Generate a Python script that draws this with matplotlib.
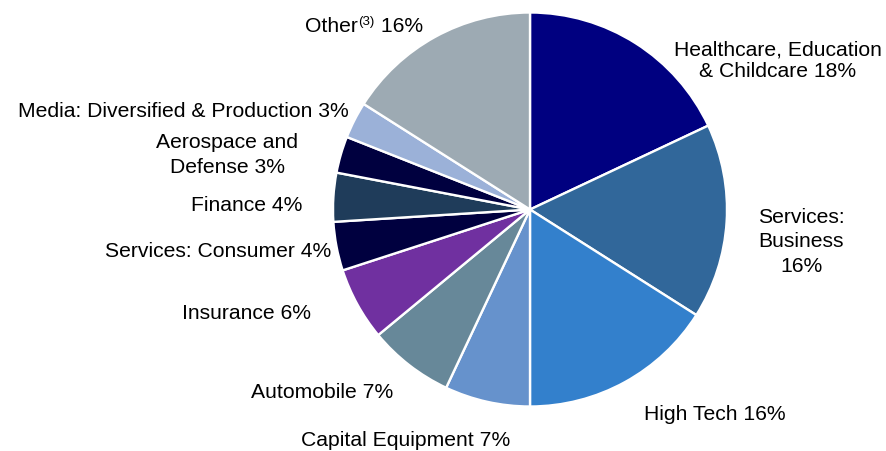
import matplotlib
matplotlib.use("Agg")
import matplotlib.pyplot as plt

categories = ["Healthcare, Education & Childcare", "Services: Business", "High Tech",
              "Capital Equipment", "Automobile", "Insurance", "Services: Consumer",
              "Finance", "Aerospace and Defense", "Media: Diversified & Production", "Other"]
values = [18, 16, 16, 7, 7, 6, 4, 4, 3, 3, 16]
label_lines = [
    ["Healthcare, Education", "& Childcare 18%"],
    ["Services:", "Business", "16%"],
    ["High Tech 16%"],
    ["Capital Equipment 7%"],
    ["Automobile 7%"],
    ["Insurance 6%"],
    ["Services: Consumer 4%"],
    ["Finance 4%"],
    ["Aerospace and", "Defense 3%"],
    ["Media: Diversified & Production 3%"],
    None,  # Other handled with superscript
]

colors = ["#000080", "#31679A", "#3380CC", "#6692CC", "#678899", "#7030A0",
          "#00003F", "#1F3C5A", "#00003F", "#9BB1D8", "#9DAAB3"]

plt.rcParams['font.family'] = ['Liberation Sans', 'DejaVu Sans']
W, H = 886, 451
fig = plt.figure(figsize=(W / 100, H / 100), dpi=100)

cx, cy, r = 530, 209.5, 197
ax = fig.add_axes([(cx - r) / W, (H - (cy + r)) / H, 2 * r / W, 2 * r / H])
ax.pie(values, colors=colors, startangle=90, counterclock=False, radius=1,
       wedgeprops=dict(edgecolor="white", linewidth=1.7))
ax.set_xlim(-1, 1)
ax.set_ylim(-1, 1)
ax.set_aspect("auto")
ax.axis("off")

def px(x, y):
    return x / W, (H - y) / H

fs = 15.25
# label layout (pixel positions: center x, baselines)
label_pos = [
    (777.5, [55, 77]),
    (801, [223, 247, 272]),
    (715, [420]),
    (406, [446]),
    (322.5, [398]),
    (246.5, [319]),
    (218, [257]),
    (247, [211]),
    (227, [148, 173]),
    (183.5, [117]),
]
for lines, (x, ys) in zip(label_lines, label_pos):
    for line, y in zip(lines, ys):
        fig.text(*px(x, y), line, ha="center", va="baseline", fontsize=fs, color="black")

# Other with superscript
renderer = fig.canvas.get_renderer()
t1 = fig.text(*px(305, 32), "Other", ha="left", va="baseline", fontsize=fs)
bb = t1.get_window_extent(renderer)
x2 = bb.x1 + 0.5
t2 = fig.text(x2 / W, (H - 25) / H, "(3)", ha="left", va="baseline", fontsize=9.5)
bb2 = t2.get_window_extent(renderer)
fig.text(bb2.x1 / W, (H - 32) / H, " 16%", ha="left", va="baseline", fontsize=fs)

fig.savefig("out.png", dpi=100)
